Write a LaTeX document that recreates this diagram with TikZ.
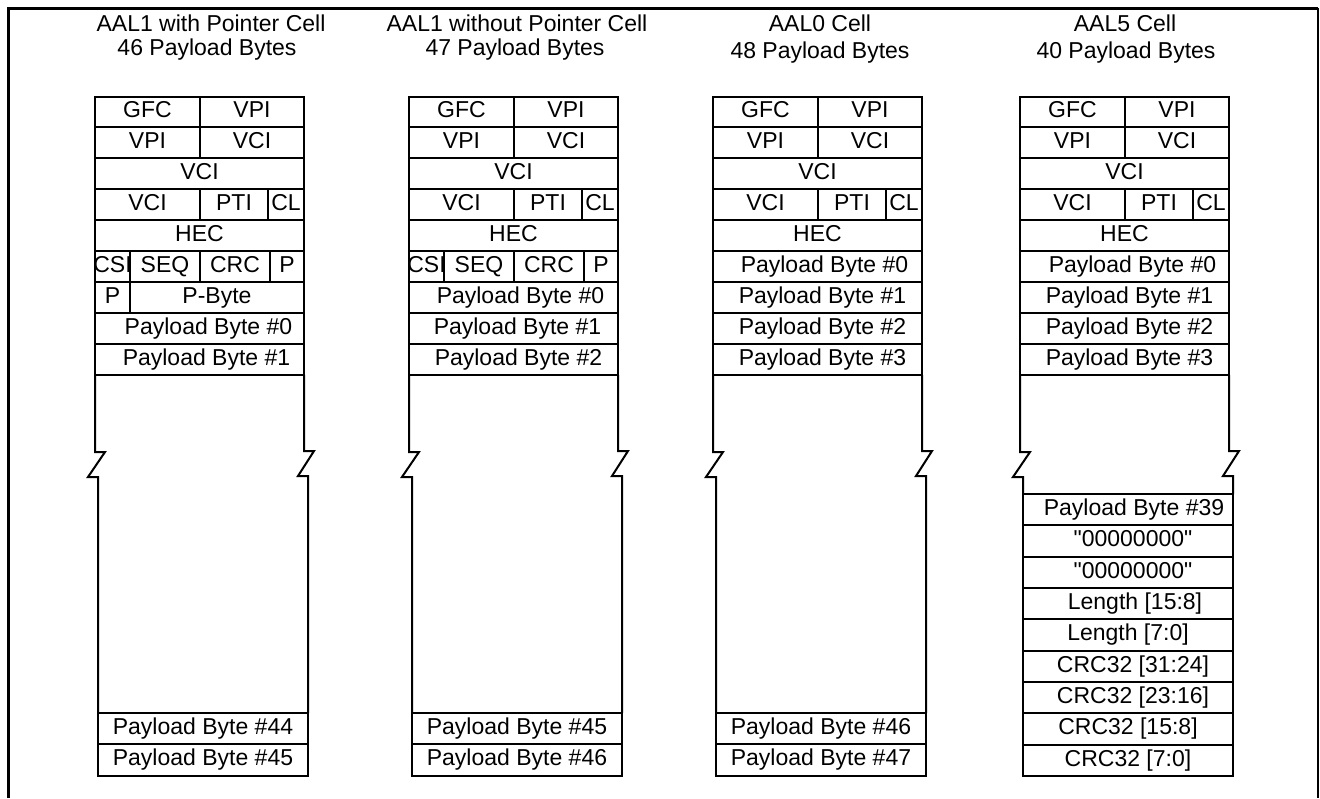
\documentclass[tikz,border=0pt]{standalone}
\usepackage{fontspec}
\setmainfont{Liberation Sans}
\newfontfamily\qfont{Liberation Sans}[Ligatures=TeXOff]
\tikzset{
  cellbox/.style={draw, line width=2pt, inner sep=0pt, outer sep=0pt,
    font=\fontsize{23}{27}\selectfont, text height=16.5pt, text depth=4.8pt, anchor=north west},
  side/.style={line width=2pt, line join=miter},
  ttl/.style={font=\fontsize{23}{27}\selectfont, inner sep=0pt}
}
\newcommand\bx[6]{%
  \pgfmathsetmacro\bxw{(#4)-(#2)}%
  \pgfmathsetmacro\bxh{(#5)-(#3)}%
  \node[cellbox, minimum width=\bxw pt, minimum height=\bxh pt] (#1) at ({#2},{#3}) {#6};}
\newcommand\hdr[2]{%
  \bx{#1gfc}{95+#2}{97}{200+#2}{127}{GFC}
  \bx{#1vpi}{200+#2}{97}{304+#2}{127}{VPI}
  \bx{#1vpib}{95+#2}{127}{200+#2}{158}{VPI}
  \bx{#1vci}{200+#2}{127}{304+#2}{158}{VCI}
  \bx{#1vcib}{95+#2}{158}{304+#2}{189}{VCI}
  \bx{#1vcic}{95+#2}{189}{200+#2}{220}{VCI}
  \bx{#1pti}{200+#2}{189}{268+#2}{220}{PTI}
  \bx{#1cl}{268+#2}{189}{304+#2}{220}{\makebox[0pt]{CL}}
  \bx{#1hec}{95+#2}{220}{304+#2}{251}{HEC}
}
\newcommand\zig[4]{%
  \draw[side] (#1.south west) -- ++(0,77) -- ++(10,0) -- ++(-17,25) -- ++(10,0) -- (#3.north west);
  \draw[side] (#2.south east) -- ++(0,76) -- ++(10,0) -- ++(-16,25) -- ++(10,0) -- (#4.north east);
}
\begin{document}
\begin{tikzpicture}[x=1pt,y=-1pt]
\useasboundingbox (0,0) rectangle (1320,798);
% frame
\draw[line width=3pt] (8,798) -- (8,8) -- (1318,8);
\draw[line width=1.5pt] (1318,8) -- (1318,798);
% titles
\node[ttl] (t1a) at (211,23) {AAL1 with Pointer Cell};
\node[ttl] (t1b) at (207,50) {46 Payload Bytes};
\node[ttl] (t2a) at (517,23) {AAL1 without Pointer Cell};
\node[ttl] (t2b) at (515,50) {47 Payload Bytes};
\node[ttl] (t3a) at (820,23) {AAL0 Cell};
\node[ttl] (t3b) at (820,53) {48 Payload Bytes};
\node[ttl] (t4a) at (1125,23) {AAL5 Cell};
\node[ttl] (t4b) at (1126,53) {40 Payload Bytes};
% ---- column 1
\hdr{c1}{0}
\bx{c1csi}{95}{251}{130}{282}{\makebox[0pt]{CSI}}
\bx{c1seq}{130}{251}{200}{282}{SEQ}
\bx{c1crc}{200}{251}{270}{282}{CRC}
\bx{c1p}{270}{251}{304}{282}{P}
\bx{c1pp}{95}{282}{130}{313}{P}
\bx{c1pbyte}{130}{282}{304}{313}{P-Byte}
\bx{c1pb0}{95}{313}{304}{344}{\hspace*{18pt}Payload Byte \#0}
\bx{c1pb1}{95}{344}{304}{375}{\hspace*{14pt}Payload Byte \#1}
\bx{c1pb44}{98}{713}{308}{744}{Payload Byte \#44}
\bx{c1pb45}{98}{744}{308}{776}{Payload Byte \#45}
\zig{c1pb1}{c1pb1}{c1pb44}{c1pb44}
% ---- column 2
\hdr{c2}{314}
\bx{c2csi}{409}{251}{444}{282}{\makebox[0pt]{CSI}}
\bx{c2seq}{444}{251}{514}{282}{SEQ}
\bx{c2crc}{514}{251}{584}{282}{CRC}
\bx{c2p}{584}{251}{618}{282}{P}
\bx{c2pb0}{409}{282}{618}{313}{\hspace*{14pt}Payload Byte \#0}
\bx{c2pb1}{409}{313}{618}{344}{\hspace*{8pt}Payload Byte \#1}
\bx{c2pb2}{409}{344}{618}{375}{\hspace*{10pt}Payload Byte \#2}
\bx{c2pb45}{412}{713}{622}{744}{Payload Byte \#45}
\bx{c2pb46}{412}{744}{622}{776}{Payload Byte \#46}
\zig{c2pb2}{c2pb2}{c2pb45}{c2pb45}
% ---- column 3
\hdr{c3}{618}
\bx{c3pb0}{713}{251}{922}{282}{\hspace*{14pt}Payload Byte \#0}
\bx{c3pb1}{713}{282}{922}{313}{\hspace*{10pt}Payload Byte \#1}
\bx{c3pb2}{713}{313}{922}{344}{\hspace*{10pt}Payload Byte \#2}
\bx{c3pb3}{713}{344}{922}{375}{\hspace*{10pt}Payload Byte \#3}
\bx{c3pb46}{716}{713}{926}{744}{Payload Byte \#46}
\bx{c3pb47}{716}{744}{926}{776}{Payload Byte \#47}
\zig{c3pb3}{c3pb3}{c3pb46}{c3pb46}
% ---- column 4
\hdr{c4}{925}
\bx{c4pb0}{1020}{251}{1229}{282}{\hspace*{16pt}Payload Byte \#0}
\bx{c4pb1}{1020}{282}{1229}{313}{\hspace*{10pt}Payload Byte \#1}
\bx{c4pb2}{1020}{313}{1229}{344}{\hspace*{10pt}Payload Byte \#2}
\bx{c4pb3}{1020}{344}{1229}{375}{\hspace*{10pt}Payload Byte \#3}
\bx{c4pb39}{1023}{494}{1233}{525}{\hspace*{12pt}Payload Byte \#39}
\bx{c4za}{1023}{525}{1233}{557}{\hspace*{10pt}{\qfont"00000000"}}
\bx{c4zb}{1023}{557}{1233}{588}{\hspace*{10pt}{\qfont"00000000"}}
\bx{c4lena}{1023}{588}{1233}{619}{\hspace*{14pt}Length [15:8]}
\bx{c4lenb}{1023}{619}{1233}{651}{Length [7:0]}
\bx{c4crca}{1023}{651}{1233}{682}{\hspace*{10pt}CRC32 [31:24]}
\bx{c4crcb}{1023}{682}{1233}{713}{\hspace*{10pt}CRC32 [23:16]}
\bx{c4crcc}{1023}{713}{1233}{745}{CRC32 [15:8]}
\bx{c4crcd}{1023}{745}{1233}{776}{CRC32 [7:0]}
\zig{c4pb3}{c4pb3}{c4pb39}{c4pb39}
\end{tikzpicture}
\end{document}
